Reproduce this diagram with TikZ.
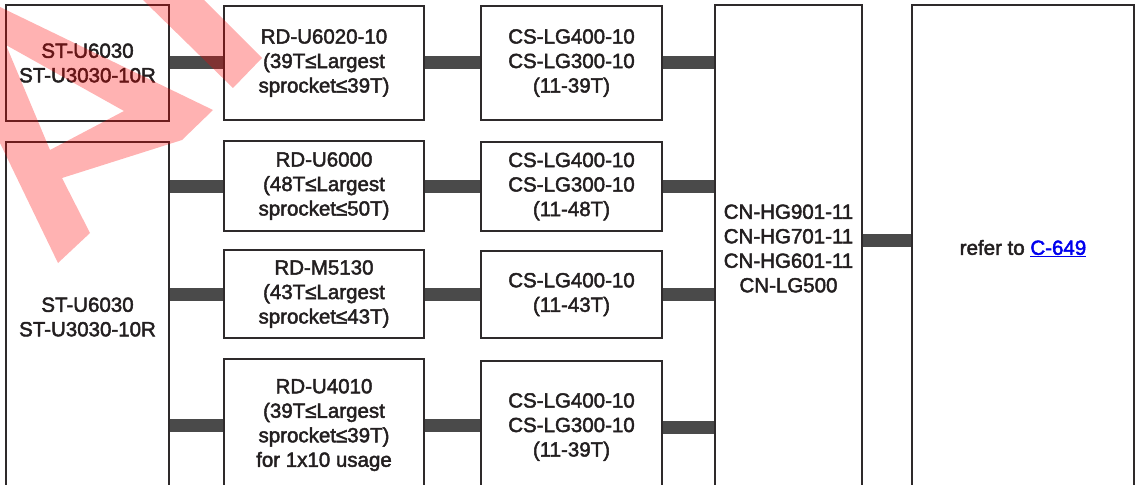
\documentclass[tikz,border=0pt]{standalone}
\usepackage{fontspec}
\setmainfont{Liberation Sans}[FakeBold=2.2]
\definecolor{boxline}{HTML}{2E2A2B}
\definecolor{partink}{HTML}{231F20}
\definecolor{barcol}{HTML}{4A4A4A}
\definecolor{linkblue}{HTML}{0000EE}
\definecolor{wmred}{HTML}{FF0000}
\usetikzlibrary{positioning}
\tikzset{
	partnode/.style={
			rectangle,
			draw=boxline,
			line width=1.2pt,
			fill=white,
			inner sep=0pt,
			align=center,
			text=partink,
			font=\fontsize{20.5}{24.5}\selectfont
		},
	chainbar/.style={
			draw=barcol,
			line width=13pt
		},
	watermark/.style={
			fill=wmred,
			fill opacity=0.3,
			even odd rule
		}
}

\begin{document}
\begin{tikzpicture}[x=1pt, y=-1pt]
\useasboundingbox (0,0) rectangle (1139,484);
\clip (0,0) rectangle (1139,484);

\node[partnode, minimum width=163pt, minimum height=116pt] (st1) at (87.5,63) {ST-U6030\\ST-U3030-10R};
\node[partnode, minimum width=163pt, minimum height=350pt] (st2) at (87.5,317) {ST-U6030\\ST-U3030-10R};

\node[partnode, minimum width=200pt, minimum height=114pt] (rd1) at (324,63) {RD-U6020-10\\(39T≤Largest\\sprocket≤39T)};
\node[partnode, minimum width=200pt, minimum height=90pt] (rd2) at (324,186) {RD-U6000\\(48T≤Largest\\sprocket≤50T)};
\node[partnode, minimum width=200pt, minimum height=88pt] (rd3) at (324,294) {RD-M5130\\(43T≤Largest\\sprocket≤43T)};
\node[partnode, minimum width=200pt, minimum height=132pt] (rd4) at (324,425) {RD-U4010\\(39T≤Largest\\sprocket≤39T)\\for 1x10 usage};

\node[partnode, minimum width=181pt, minimum height=114pt] (cs1) at (571.5,63) {CS-LG400-10\\CS-LG300-10\\(11-39T)};
\node[partnode, minimum width=181pt, minimum height=89pt] (cs2) at (571.5,186.5) {CS-LG400-10\\CS-LG300-10\\(11-48T)};
\node[partnode, minimum width=181pt, minimum height=87pt] (cs3) at (571.5,294.5) {CS-LG400-10\\(11-43T)};
\node[partnode, minimum width=181pt, minimum height=132pt] (cs4) at (571.5,427) {CS-LG400-10\\CS-LG300-10\\(11-39T)};

\node[partnode, minimum width=147pt, minimum height=487pt] (cn) at (788.5,248.5) {CN-HG901-11\\CN-HG701-11\\CN-HG601-11\\CN-LG500};
\node[partnode, minimum width=222pt, minimum height=487pt] (ref) at (1023,248.5) {refer to \textcolor{linkblue}{\underline{C-649}}};

\draw[chainbar] (st1.east) -- (st1.east -| rd1.west);
\draw[chainbar] (st2.east |- rd2.west) -- (rd2.west);
\draw[chainbar] (st2.east |- rd3.west) -- (rd3.west);
\draw[chainbar] (st2.east |- rd4.west) -- (rd4.west);

\draw[chainbar] (rd1.east) -- (rd1.east -| cs1.west);
\draw[chainbar] (rd2.east) -- (rd2.east -| cs2.west);
\draw[chainbar] (rd3.east) -- (rd3.east -| cs3.west);
\draw[chainbar] (rd4.east) -- (rd4.east -| cs4.west);

\draw[chainbar] (cs1.east) -- (cs1.east -| cn.west);
\draw[chainbar] (cs2.east) -- (cs2.east -| cn.west);
\draw[chainbar] (cs3.east) -- (cs3.east -| cn.west);
\draw[chainbar] (cs4.east) -- (cs4.east -| cn.west);

\draw[chainbar] ([yshift=8pt]cn.east) -- ([yshift=8pt]ref.west);

% watermark
\fill[watermark] (0,7) -- (213,110) -- (182,140) -- (62,178) -- (90,233) -- (58,263) -- (0,143) -- cycle
  (6,45) -- (124,111) -- (50,150) -- cycle;
\fill[watermark] (143,0) -- (233,88) -- (262,58) -- (204,0) -- cycle;

\end{tikzpicture}
\end{document}
